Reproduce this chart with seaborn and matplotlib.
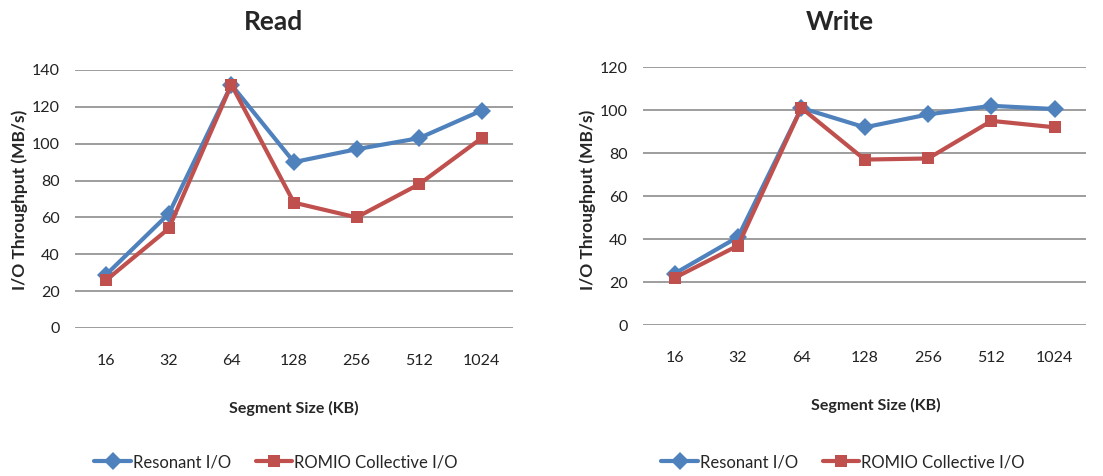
import matplotlib
matplotlib.use("Agg")
import matplotlib.pyplot as plt
import seaborn as sns
import pandas as pd

segment_sizes = ["16", "32", "64", "128", "256", "512", "1024"]
read_resonant = [29, 62, 132, 90, 97, 103, 118]
read_romio = [26, 54, 132, 68, 60, 78, 103]
write_resonant = [24, 41, 101, 92, 98, 102, 100.5]
write_romio = [22, 37, 101, 77, 77.5, 95, 92]
series_names = ["Resonant I/O", "ROMIO Collective I/O"]

sns.set_theme(style="white")
plt.rcParams['font.family'] = ['Lato', 'DejaVu Sans']

BLUE = "#4F81BD"
RED = "#C0504D"
GRID = "#8C8C8C"

fig = plt.figure(figsize=(11.03, 4.76), dpi=100)
ax1 = fig.add_axes([0.068, 0.311, 0.397, 0.542])
ax2 = fig.add_axes([0.583, 0.317, 0.402, 0.542])

def make_df(a, b):
    return pd.DataFrame({
        "size": segment_sizes * 2,
        "val": list(a) + list(b),
        "series": [series_names[0]] * len(a) + [series_names[1]] * len(b),
    })

def draw(ax, a, b, ymax, title, title_x, ylab_x, xlab_x, xlab_y, leg_x):
    df = make_df(a, b)
    sns.lineplot(data=df, x="size", y="val", hue="series", style="series",
                 markers={series_names[0]: "D", series_names[1]: "s"},
                 dashes=False, palette=[BLUE, RED], linewidth=3,
                 markersize=9, markeredgewidth=0, ax=ax, sort=False)
    ax.set_ylim(0, ymax)
    ax.set_xlim(-0.5, len(segment_sizes) - 0.5)
    ax.set_yticks(range(0, ymax + 1, 20))
    ax.yaxis.grid(True, color=GRID, linewidth=1.2)
    ax.xaxis.grid(False)
    for s in ax.spines.values():
        s.set_visible(False)
    ax.tick_params(axis="y", length=0, pad=11, labelsize=11.5, colors="#222222")
    ax.tick_params(axis="x", length=0, pad=19, labelsize=11.5, colors="#222222")
    ax.set_xlabel("")
    ax.set_ylabel("")
    fig.text(title_x, 1 - 22 / 476, title, ha="center", va="center",
             fontsize=19, fontweight="bold")
    fig.text(ylab_x, 0.58, "I/O Throughput (MB/s)", rotation=90,
             ha="center", va="center", fontsize=12.5, fontweight="bold")
    fig.text(xlab_x, xlab_y, "Segment Size (KB)", ha="center",
             va="center", fontsize=11.5, fontweight="bold")
    handles, labels = ax.get_legend_handles_labels()
    ax.get_legend().remove()
    fig.legend(handles, labels, loc="center", bbox_to_anchor=(leg_x, 1 - 462 / 476),
               ncol=2, frameon=False, fontsize=12, handlelength=2.2,
               handletextpad=0.1, columnspacing=1.5)

draw(ax1, read_resonant, read_romio, 140, "Read", 273 / 1103, 20 / 1103,
     294 / 1103, 1 - 408 / 476, 276 / 1103)
draw(ax2, write_resonant, write_romio, 120, "Write", 840 / 1103, 588 / 1103,
     876 / 1103, 1 - 405 / 476, 843 / 1103)

fig.savefig("out.png", dpi=100)
